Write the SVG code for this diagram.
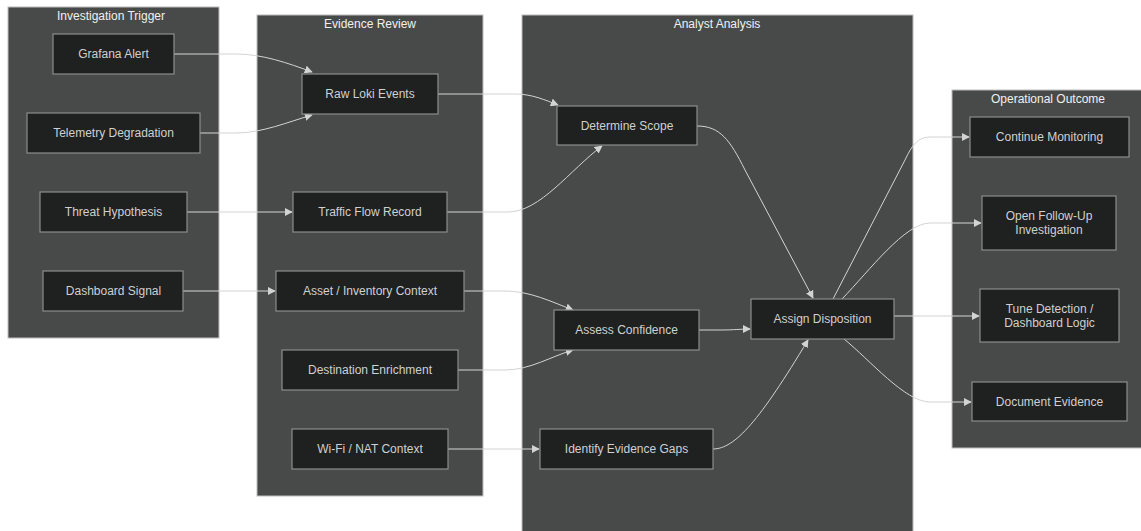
<svg xmlns="http://www.w3.org/2000/svg" width="1141" height="531" viewBox="0 0 1141 531">
<style>
.cluster rect{fill:#484a49;stroke:#bcbcbc;stroke-width:1}
.ctitle{fill:#f0f0f0;font-family:"Liberation Sans",Arial,sans-serif;font-size:12px;text-anchor:middle}
.node rect{fill:#1f2020;stroke:#8c8c8c;stroke-width:1.2}
.node text{fill:#d0d0d0;font-family:"Liberation Sans",Arial,sans-serif;font-size:12px;text-anchor:middle;dominant-baseline:central}
.edges path{fill:none;stroke:#d3d3d3;stroke-width:1;marker-end:url(#arr)}
</style>
<defs>
<marker id="arr" viewBox="0 0 10 10" refX="9" refY="5" markerWidth="8" markerHeight="8" markerUnits="userSpaceOnUse" orient="auto">
<path d="M0,0 L10,5 L0,10 z" fill="#d3d3d3"/>
</marker>
</defs>
<rect width="1141" height="531" fill="#ffffff"/>
<g id="clusters" class="cluster">
<g id="cluster-trigger"><rect x="8" y="7" width="211" height="331"/><text class="ctitle" x="111" y="20">Investigation Trigger</text></g>
<g id="cluster-evidence"><rect x="257" y="15" width="226" height="481"/><text class="ctitle" x="370" y="28">Evidence Review</text></g>
<g id="cluster-analysis"><rect x="522" y="15" width="391" height="530"/><text class="ctitle" x="717" y="28">Analyst Analysis</text></g>
<g id="cluster-outcome"><rect x="952" y="90" width="194" height="358"/><text class="ctitle" x="1048" y="103">Operational Outcome</text></g>
</g>
<g id="connectors" class="edges">
<path d="M174,54 L236,54 C262,54 288,63 312,72"/>
<path d="M200,133 L236,133 C262,133 288,122 312,115"/>
<path d="M187,212 L292,212"/>
<path d="M183,291 L275,291"/>
<path d="M438,94 L515,94 C532,94 545,100 558,105"/>
<path d="M447,212 L508,212 C540,212 570,170 602,146"/>
<path d="M464,291 L505,291 C530,291 552,302 573,310"/>
<path d="M458,370 L505,370 C530,370 552,356 573,350"/>
<path d="M448,449 L539,449"/>
<path d="M697,126 C720,126 730,140 745,170 L813,298"/>
<path d="M699,330 L720,330 C735,330 740,329 750,329"/>
<path d="M713,449 C735,449 760,420 808,340"/>
<path d="M833,299 L905,160 C912,145 918,137 930,137 L969,137"/>
<path d="M842,299 C870,270 905,223 930,223 L981,223"/>
<path d="M894,316 L979,316"/>
<path d="M844,339 C870,360 905,402 930,402 L971,402"/>
</g>
<g id="n-grafana" class="node"><rect x="53" y="34" width="121" height="40"/><text x="113.5" y="54">Grafana Alert</text></g>
<g id="n-telemetry" class="node"><rect x="27" y="113" width="173" height="40"/><text x="113.5" y="133">Telemetry Degradation</text></g>
<g id="n-threat" class="node"><rect x="40" y="192" width="147" height="40"/><text x="113.5" y="212">Threat Hypothesis</text></g>
<g id="n-dashboard" class="node"><rect x="43" y="271" width="140" height="40"/><text x="113.5" y="291">Dashboard Signal</text></g>
<g id="n-loki" class="node"><rect x="302" y="74" width="136" height="40"/><text x="370" y="94">Raw Loki Events</text></g>
<g id="n-traffic" class="node"><rect x="293" y="192" width="154" height="40"/><text x="370" y="212">Traffic Flow Record</text></g>
<g id="n-asset" class="node"><rect x="276" y="271" width="188" height="40"/><text x="370" y="291">Asset / Inventory Context</text></g>
<g id="n-dest" class="node"><rect x="282" y="350" width="176" height="40"/><text x="370" y="370">Destination Enrichment</text></g>
<g id="n-wifi" class="node"><rect x="292" y="429" width="156" height="40"/><text x="370" y="449">Wi-Fi / NAT Context</text></g>
<g id="n-scope" class="node"><rect x="557" y="106" width="140" height="39"/><text x="627" y="126">Determine Scope</text></g>
<g id="n-confidence" class="node"><rect x="554" y="310" width="145" height="40"/><text x="626.5" y="330">Assess Confidence</text></g>
<g id="n-disposition" class="node"><rect x="751" y="299" width="143" height="40"/><text x="822.5" y="319">Assign Disposition</text></g>
<g id="n-gaps" class="node"><rect x="540" y="429" width="173" height="40"/><text x="626.5" y="449">Identify Evidence Gaps</text></g>
<g id="n-monitor" class="node"><rect x="970" y="117" width="159" height="40"/><text x="1049.5" y="137">Continue Monitoring</text></g>
<g id="n-followup" class="node"><rect x="982" y="196" width="134" height="54"/><text x="1049" y="216">Open Follow-Up</text><text x="1049" y="230">Investigation</text></g>
<g id="n-tune" class="node"><rect x="980" y="289" width="139" height="53"/><text x="1049.5" y="309">Tune Detection /</text><text x="1049.5" y="323">Dashboard Logic</text></g>
<g id="n-document" class="node"><rect x="972" y="382" width="155" height="39"/><text x="1049.5" y="402">Document Evidence</text></g>
</svg>
